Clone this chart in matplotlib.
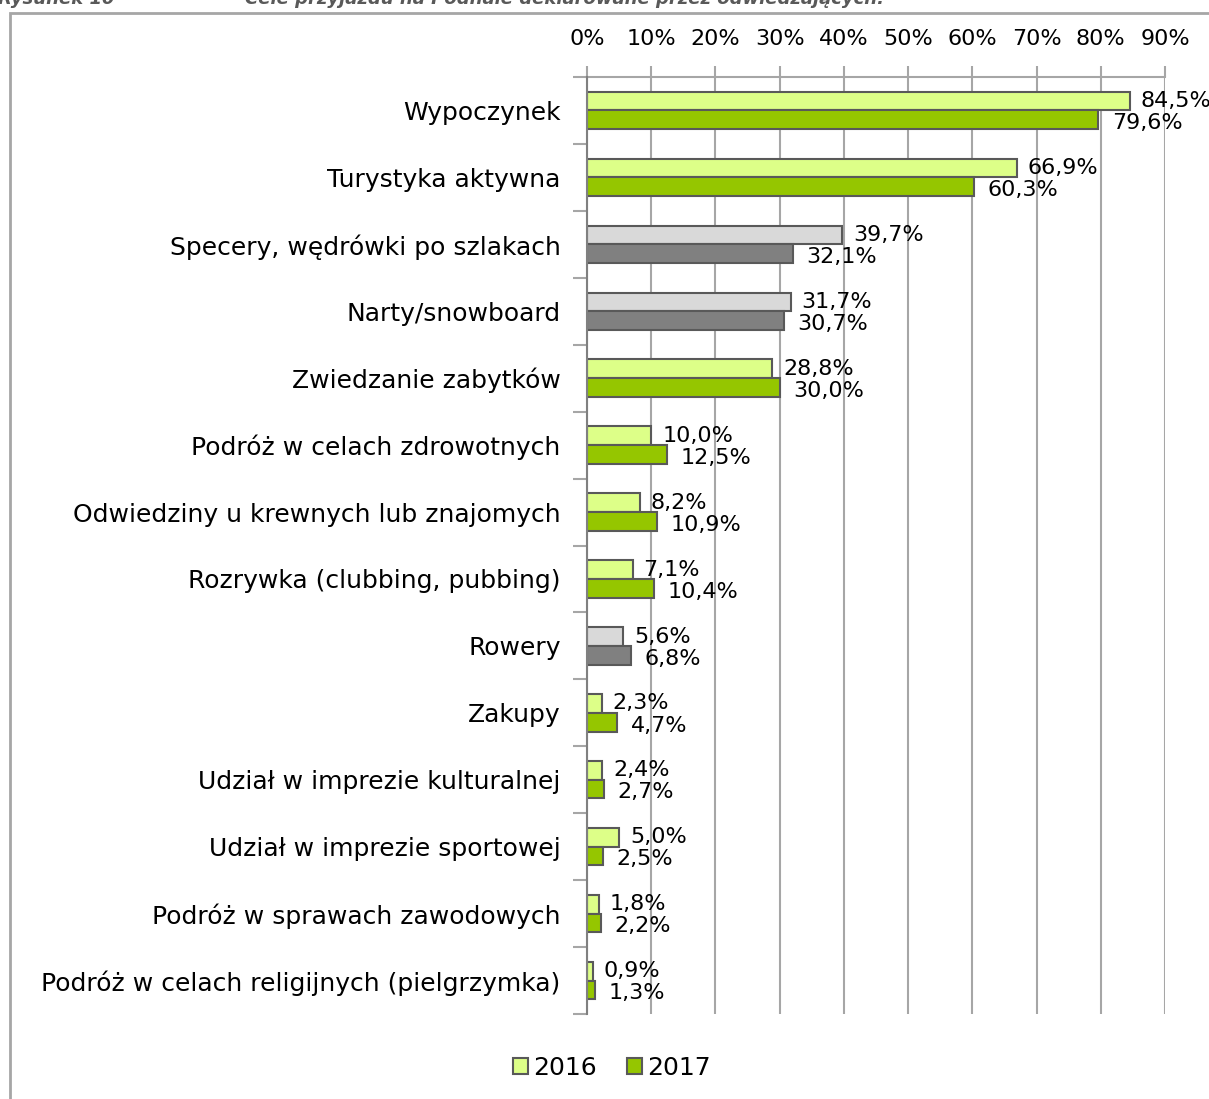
import matplotlib.pyplot as plt
import numpy as np
from matplotlib.patches import Rectangle, Patch

categories = ['Wypoczynek', 'Turystyka aktywna', 'Specery, wędrówki po szlakach',
              'Narty/snowboard', 'Zwiedzanie zabytków', 'Podróż w celach zdrowotnych',
              'Odwiedziny u krewnych lub znajomych', 'Rozrywka (clubbing, pubbing)',
              'Rowery', 'Zakupy', 'Udział w imprezie kulturalnej',
              'Udział w imprezie sportowej', 'Podróż w sprawach zawodowych',
              'Podróż w celach religijnych (pielgrzymka)']
v2016 = [84.5, 66.9, 39.7, 31.7, 28.8, 10.0, 8.2, 7.1, 5.6, 2.3, 2.4, 5.0, 1.8, 0.9]
v2017 = [79.6, 60.3, 32.1, 30.7, 30.0, 12.5, 10.9, 10.4, 6.8, 4.7, 2.7, 2.5, 2.2, 1.3]
grey_rows = ['Specery, wędrówki po szlakach', 'Narty/snowboard', 'Rowery']
xticks = [0, 10, 20, 30, 40, 50, 60, 70, 80, 90]

c16, c17 = '#DDFF88', '#95C600'
g16, g17 = '#D9D9D9', '#808080'
edge = '#595959'
gridc = '#A6A6A6'

W, H = 1209, 1099
fig = plt.figure(figsize=(W / 100, H / 100), dpi=100)

# frame around the chart
fig.patches.append(Rectangle((10 / W, -0.1), 1.2, 1.1 - 13 / H,
                             transform=fig.transFigure, fill=False,
                             edgecolor=gridc, lw=2))
fig.text(-2 / W, 1 - 4 / H, 'Rysunek 10', fontsize=13, fontweight='bold',
         fontstyle='italic', color=edge, va='baseline')
fig.text(245 / W, 1 - 4 / H, 'Cele przyjazdu na Podhale deklarowane przez odwiedzających.',
         fontsize=13, fontweight='bold', fontstyle='italic', color=edge, va='baseline')

ax = fig.add_axes([587 / W, 1 - 1014 / H, (1165 - 587) / W, (1014 - 77) / H])

y = np.arange(len(categories))
h = 0.28
col16 = [g16 if c in grey_rows else c16 for c in categories]
col17 = [g17 if c in grey_rows else c17 for c in categories]
ax.barh(y - h / 2, v2016, height=h, color=col16, edgecolor=edge, lw=1.5, zorder=3)
ax.barh(y + h / 2, v2017, height=h, color=col17, edgecolor=edge, lw=1.5, zorder=3)

fmt = lambda v: ('%.1f%%' % v).replace('.', ',')
for yi, a, b in zip(y, v2016, v2017):
    ax.text(a + 1.7, yi - h / 2 + 0.0, fmt(a), va='center', ha='left', fontsize=16, zorder=4)
    ax.text(b + 2.1, yi + h / 2 + 0.05, fmt(b), va='center', ha='left', fontsize=16, zorder=4)

ax.set_xlim(0, 90)
ax.set_ylim(len(categories) - 0.5, -0.5)
ax.xaxis.tick_top()
ax.set_xticks(xticks)
ax.set_xticklabels(['%d%%' % t for t in xticks], fontsize=16)
ax.tick_params(axis='x', direction='out', length=8, color=gridc, width=1.5, pad=12)
ax.set_yticks(y)
ax.set_yticklabels(categories, fontsize=18)
ax.tick_params(axis='y', which='major', length=0, pad=19)
ax.set_yticks(np.arange(len(categories) + 1) - 0.5, minor=True)
ax.tick_params(axis='y', which='minor', length=10, color=gridc, width=1.5)
ax.grid(axis='x', color=gridc, lw=1.5, zorder=0)
for s in ['right', 'bottom']:
    ax.spines[s].set_visible(False)
ax.spines['left'].set_color('#808080')
ax.spines['left'].set_linewidth(1.5)
ax.spines['left'].set_zorder(5)
ax.spines['top'].set_color(gridc)
ax.spines['top'].set_linewidth(1.5)

handles = [Patch(facecolor=c16, edgecolor=edge, lw=1.5, label='2016'),
           Patch(facecolor=c17, edgecolor=edge, lw=1.5, label='2017')]
fig.legend(handles=handles, loc='center', bbox_to_anchor=(612 / W, 1 - 1068 / H),
           ncol=2, frameon=False, fontsize=18, handlelength=0.6, handleheight=0.6,
           handletextpad=0.2, columnspacing=1.2)

fig.savefig('out.png', dpi=100)
